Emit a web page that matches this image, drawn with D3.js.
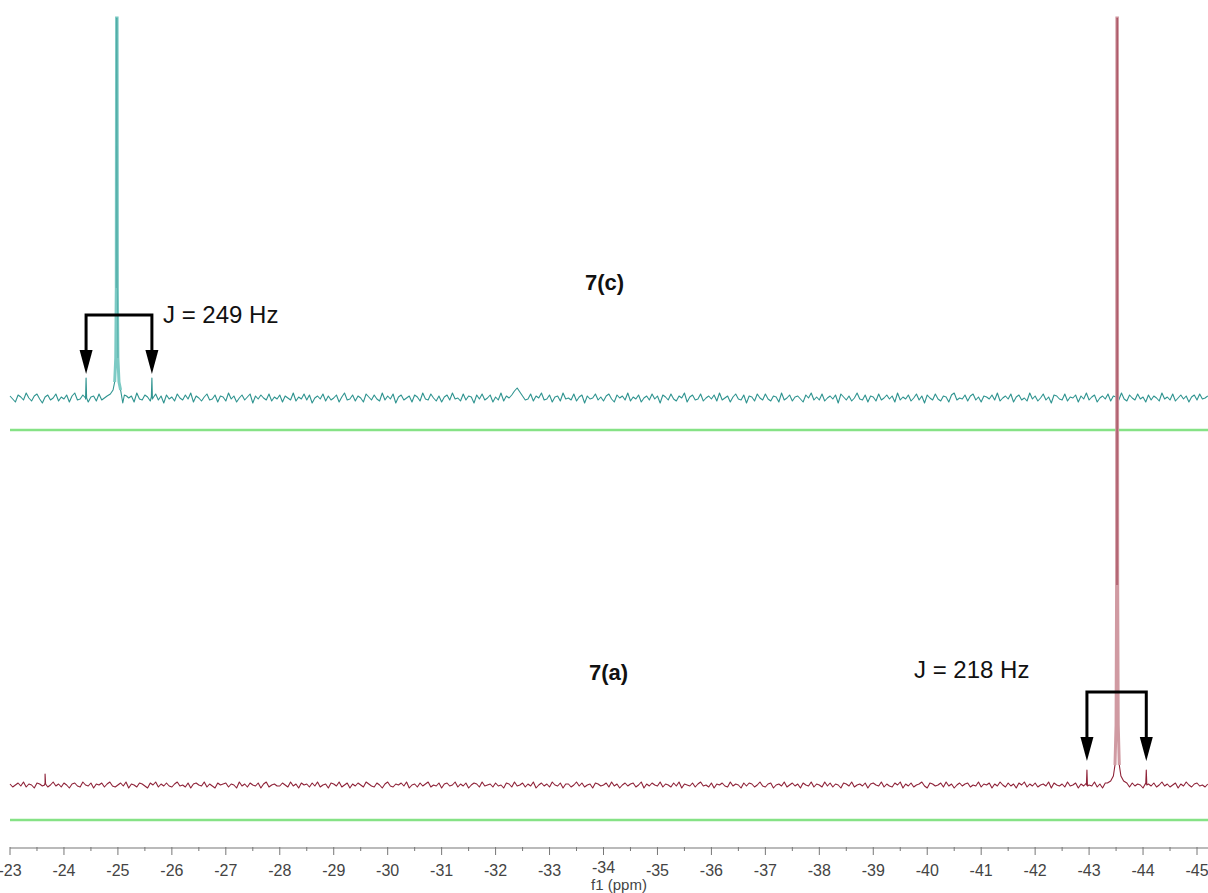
<!DOCTYPE html>
<html>
<head>
<meta charset="utf-8">
<script src="https://cdn.jsdelivr.net/npm/d3@7"></script>
<style>
  body { margin: 0; background: #fff; }
  svg { display: block; font-family: "Liberation Sans", Arial, sans-serif; }
</style>
</head>
<body>
<svg id="chart" width="1208" height="893"></svg>
<script>
// f1 axis (ppm), high field to the right
var majorTicks = d3.range(-23, -46, -1);
var minorTicks = d3.range(-23.5, -45.5, -1);

// noise on the acquisition grid: starts at -23.0 ppm, one point every 0.05 ppm
var gridStart = -23.0, gridStep = 0.05;

// 7(c) baseline noise (intensity units)
var noiseC = [
  2,-1,-4,3,1,-2,5,0,-3,2,4,-1,-5,1,3,-2,0,4,-3,1,
  -1,3,-4,2,5,-2,-1,3,0,-4,1,2,-3,4,-2,0,3,-5,1,2,
  -2,4,1,-3,0,2,-4,5,-1,-2,3,1,-3,0,4,-2,2,-5,3,-1,
  1,-3,4,0,-2,3,-1,5,-4,2,0,-3,1,4,-2,-1,3,-4,2,1,
  -3,5,-1,2,-4,0,3,-2,1,4,-5,2,-1,3,0,-2,4,-3,1,-1,
  3,-4,2,0,-2,5,-3,1,-1,4,-2,3,-5,0,2,-1,4,-3,2,-2,
  0,3,-4,1,5,-2,-1,3,-3,2,0,-4,4,1,-2,3,-1,-3,5,-2,
  2,-1,4,-5,1,3,-2,0,2,-4,3,1,-3,5,-1,-2,4,0,-3,2,
  -4,1,3,-2,5,-1,0,-3,4,-2,2,1,-5,3,-1,4,-2,0,3,-4,
  1,-2,5,-3,2,0,3,7,10,6,2,-2,-1,4,-3,2,0,5,-2,-1,
  3,-4,1,2,-3,5,-1,0,-2,4,-3,1,3,-5,2,-1,0,4,-2,1,
  -3,2,4,-1,-4,3,0,2,-2,5,-3,1,-1,3,-4,0,2,-2,4,-1,
  2,-5,3,1,-2,4,-1,-3,2,0,5,-4,1,3,-2,-1,4,-3,0,2,
  -1,3,-3,5,-2,0,2,-4,1,4,-1,-2,3,-5,2,1,-3,4,0,-2,
  4,-1,-3,2,1,-4,5,-2,0,3,-3,1,2,-1,-4,3,0,5,-2,1,
  -2,4,-3,0,2,-1,3,-5,4,1,-2,2,-3,0,5,-1,-2,3,-4,2,
  1,-3,4,-2,0,3,-1,2,-4,5,-2,1,-1,3,-3,0,4,-2,2,-5,
  3,0,-2,4,-1,-3,2,1,-4,3,5,-2,0,-1,3,-3,2,4,-2,1,
  -4,2,1,-1,3,-2,5,-3,0,2,-1,4,-4,1,3,-2,0,-3,5,-1,
  2,-3,0,4,-2,1,-5,3,2,-1,-2,4,-3,1,0,3,-4,2,-1,5,
  -2,1,3,-4,0,2,-1,4,-3,2,1,-2,5,-1,-3,3,0,-2,4,-1,
  1,-4,3,-2,2,0,-3,5,-1,1,-2,4,-3,0,3,-1,2,-4,1,3,
  -2,4,-1,0,2
];

// 7(a) baseline noise (intensity units)
var noiseA = [
  1,-2,0,2,-1,3,-2,1,0,-3,2,1,-1,2,-2,0,3,-1,1,-2,
  2,0,-3,1,2,-1,-2,3,0,-1,2,-3,1,0,2,-2,1,3,-1,-2,
  0,2,-1,3,-3,1,0,-2,2,1,-1,-3,2,0,3,-2,1,-1,2,-1,
  -2,1,3,-1,0,-2,2,-3,1,2,0,-1,3,-2,1,-1,-3,2,0,1,
  2,-2,1,0,-3,3,-1,1,-2,2,0,-1,2,-3,1,3,-2,0,1,-1,
  -1,2,0,-2,3,-1,1,-3,2,0,1,-2,2,-1,3,-2,0,1,-3,2,
  1,-1,3,-2,0,2,-3,1,-1,2,0,-2,3,1,-1,-2,2,0,-3,1,
  3,-1,-2,1,0,2,-1,3,-3,0,1,-2,2,-1,1,3,-2,0,-1,2,
  -3,1,2,-1,0,3,-2,1,-1,2,-3,0,2,1,-2,3,-1,0,1,-2,
  2,-1,0,-3,2,1,-2,3,-1,0,2,-2,1,-1,3,-3,0,2,-1,1,
  -2,3,0,-1,2,-3,1,1,-2,0,3,-1,2,-2,0,1,-3,2,1,-1,
  0,2,-2,3,-1,1,-3,0,2,-1,1,2,-2,0,3,-3,1,-1,2,0,
  -1,3,-2,1,0,-2,2,-1,3,-3,1,0,-1,2,-2,1,3,-1,0,-2,
  2,-3,1,0,2,-1,-2,3,-1,1,0,-3,2,-1,2,1,-2,0,3,-1,
  -2,1,2,-3,0,1,-1,3,-2,0,2,-1,1,-3,2,0,-1,3,-2,1,
  0,-2,3,-1,2,-2,1,0,-3,2,1,-1,3,-2,0,1,-1,2,-3,1,
  2,0,-1,3,-2,1,-1,-2,2,0,3,-3,1,-1,2,-2,0,1,3,-1,
  -3,2,1,-1,0,2,-2,3,-1,1,-3,0,2,-1,1,2,-2,0,-1,3,
  -2,1,0,2,-3,1,-1,3,0,-2,2,-1,1,-3,2,0,3,-2,1,-1,
  2,-2,0,1,-1,3,-3,2,0,-1,1,-2,3,-1,0,2,-3,1,-1,2,
  0,-1,3,-2,1,-3,2,0,-1,2,1,-2,0,3,-1,-2,2,-1,1,0,
  -3,2,1,-1,2,-2,0,3,-1,1,-2,0,2,-3,1,-1,3,0,-2,1,
  2,-1,0,-2,1
];

// main resonances [ppm, intensity]
var peakC = [
  [-24.80, 2], [-24.86, 4], [-24.91, 8], [-24.94, 16], [-24.96, 40], [-24.97, 110],
  [-24.975, 380], [-24.985, 380], [-24.99, 110], [-25.00, 40], [-25.02, 16],
  [-25.05, 8], [-25.09, -5], [-25.12, 3], [-25.16, 2]
];
var peakA = [
  [-43.34, 2], [-43.40, 4], [-43.45, 9], [-43.48, 20], [-43.50, 60], [-43.51, 200],
  [-43.515, 767], [-43.525, 767], [-43.53, 200], [-43.54, 60], [-43.56, 20],
  [-43.59, 9], [-43.64, 4], [-43.70, 2]
];

// satellites and small features [ppm, intensity]
var extrasC = [
  [-24.40, -1], [-24.41, 20], [-24.42, 0],
  [-25.62, 1], [-25.63, 20], [-25.64, -1]
];
var extrasA = [
  [-23.64, 0], [-23.65, 11], [-23.66, 1],
  [-42.95, 0], [-42.96, 15], [-42.97, -1],
  [-44.05, 1], [-44.06, 15], [-44.07, 0]
];

// coupling annotations
var couplings = [
  { left: -24.41, right: -25.63, label: 'J = 249 Hz', sample: '7(c)' },
  { left: -42.96, right: -44.06, label: 'J = 218 Hz', sample: '7(a)' }
];

var svg = d3.select('#chart');
var x = d3.scaleLinear().domain([-23, -45]).range([10, 1197]);
var yC = d3.scaleLinear().domain([0, 380]).range([398, 18]);
var yA = d3.scaleLinear().domain([0, 767]).range([785, 18]);

function buildSpectrum(noise, peak, extras) {
  var hi = d3.max(peak, function(d) { return d[0]; });
  var lo = d3.min(peak, function(d) { return d[0]; });
  var pts = noise.map(function(v, i) { return [gridStart - i * gridStep, v]; })
    .filter(function(p) { return p[0] > hi || p[0] < lo; });
  return pts.concat(peak, extras).sort(function(a, b) { return b[0] - a[0]; });
}

var traces = [
  { data: buildSpectrum(noiseC, peakC, extrasC), peak: peakC, y: yC,
    color: '#2f9490', peakColor: '#7ccac4', zero: 430 },
  { data: buildSpectrum(noiseA, peakA, extrasA), peak: peakA, y: yA,
    color: '#8e2238', peakColor: '#d09aa2', zero: 820 }
];

// integral / zero lines
svg.selectAll('line.zero').data(traces).enter().append('line')
  .attr('class', 'zero')
  .attr('x1', 10).attr('x2', 1208)
  .attr('y1', function(t) { return t.zero; }).attr('y2', function(t) { return t.zero; })
  .attr('stroke', '#86e286').attr('stroke-width', 2.5);

traces.forEach(function(t) {
  var line = d3.line()
    .x(function(d) { return x(d[0]); })
    .y(function(d) { return t.y(d[1]); });
  svg.append('path').datum(t.data)
    .attr('d', line)
    .attr('fill', 'none')
    .attr('stroke', t.color)
    .attr('stroke-width', 1.1)
    .attr('stroke-linejoin', 'round');
  // main line drawn paler, as in the original export
  svg.append('path').datum(t.peak.slice(3, -3))
    .attr('d', line)
    .attr('fill', 'none')
    .attr('stroke', t.peakColor)
    .attr('stroke-width', 3);
  svg.append('path').datum(t.peak.slice(5, -5))
    .attr('d', line)
    .attr('fill', 'none')
    .attr('stroke', t.color)
    .attr('stroke-opacity', 0.45)
    .attr('stroke-width', 1);
});

// axis
var axisG = svg.append('g').attr('transform', 'translate(0,848)');
axisG.append('line')
  .attr('x1', 10).attr('x2', 1208)
  .attr('stroke', '#777').attr('stroke-width', 1.2);
axisG.selectAll('line.minor').data(minorTicks).enter().append('line')
  .attr('class', 'minor')
  .attr('x1', function(d) { return x(d); }).attr('x2', function(d) { return x(d); })
  .attr('y1', -1).attr('y2', 3)
  .attr('stroke', '#777');
axisG.selectAll('line.major').data(majorTicks).enter().append('line')
  .attr('class', 'major')
  .attr('x1', function(d) { return x(d); }).attr('x2', function(d) { return x(d); })
  .attr('y1', -1).attr('y2', 7)
  .attr('stroke', '#777');
axisG.selectAll('text.tick').data(majorTicks).enter().append('text')
  .attr('class', 'tick')
  .attr('x', function(d) { return x(d); })
  .attr('y', function(d) { return d === -34 ? 25 : 28; })
  .attr('text-anchor', 'middle')
  .attr('font-size', 16)
  .attr('fill', '#444')
  .text(function(d) { return String(d); });
axisG.append('text')
  .attr('x', 619).attr('y', 42)
  .attr('text-anchor', 'middle')
  .attr('font-size', 15)
  .attr('fill', '#444')
  .text('f1 (ppm)');

// coupling brackets with arrows
var bracketLayout = [
  { top: 315, tip: 374, labelX: 163, labelY: 323, sampleX: 585, sampleY: 290 },
  { top: 692, tip: 761, labelX: 914, labelY: 678, sampleX: 589, sampleY: 680 }
];
couplings.forEach(function(c, i) {
  var L = bracketLayout[i];
  var xl = x(c.left), xr = x(c.right), head = 24, hw = 6.5;
  svg.append('path')
    .attr('d', 'M' + xl + ',' + (L.tip - head) + 'V' + L.top + 'H' + xr + 'V' + (L.tip - head))
    .attr('fill', 'none').attr('stroke', '#000').attr('stroke-width', 3)
    .attr('stroke-linejoin', 'miter');
  [xl, xr].forEach(function(xx) {
    svg.append('path')
      .attr('d', 'M' + (xx - hw) + ',' + (L.tip - head) + 'L' + (xx + hw) + ',' + (L.tip - head) +
        'L' + xx + ',' + L.tip + 'Z')
      .attr('fill', '#000');
  });
  svg.append('text')
    .attr('x', L.labelX).attr('y', L.labelY)
    .attr('font-size', 24).attr('fill', '#111')
    .text(c.label);
  svg.append('text')
    .attr('x', L.sampleX).attr('y', L.sampleY)
    .attr('font-size', 22).attr('font-weight', 'bold').attr('fill', '#111')
    .text(c.sample);
});
</script>
</body>
</html>
